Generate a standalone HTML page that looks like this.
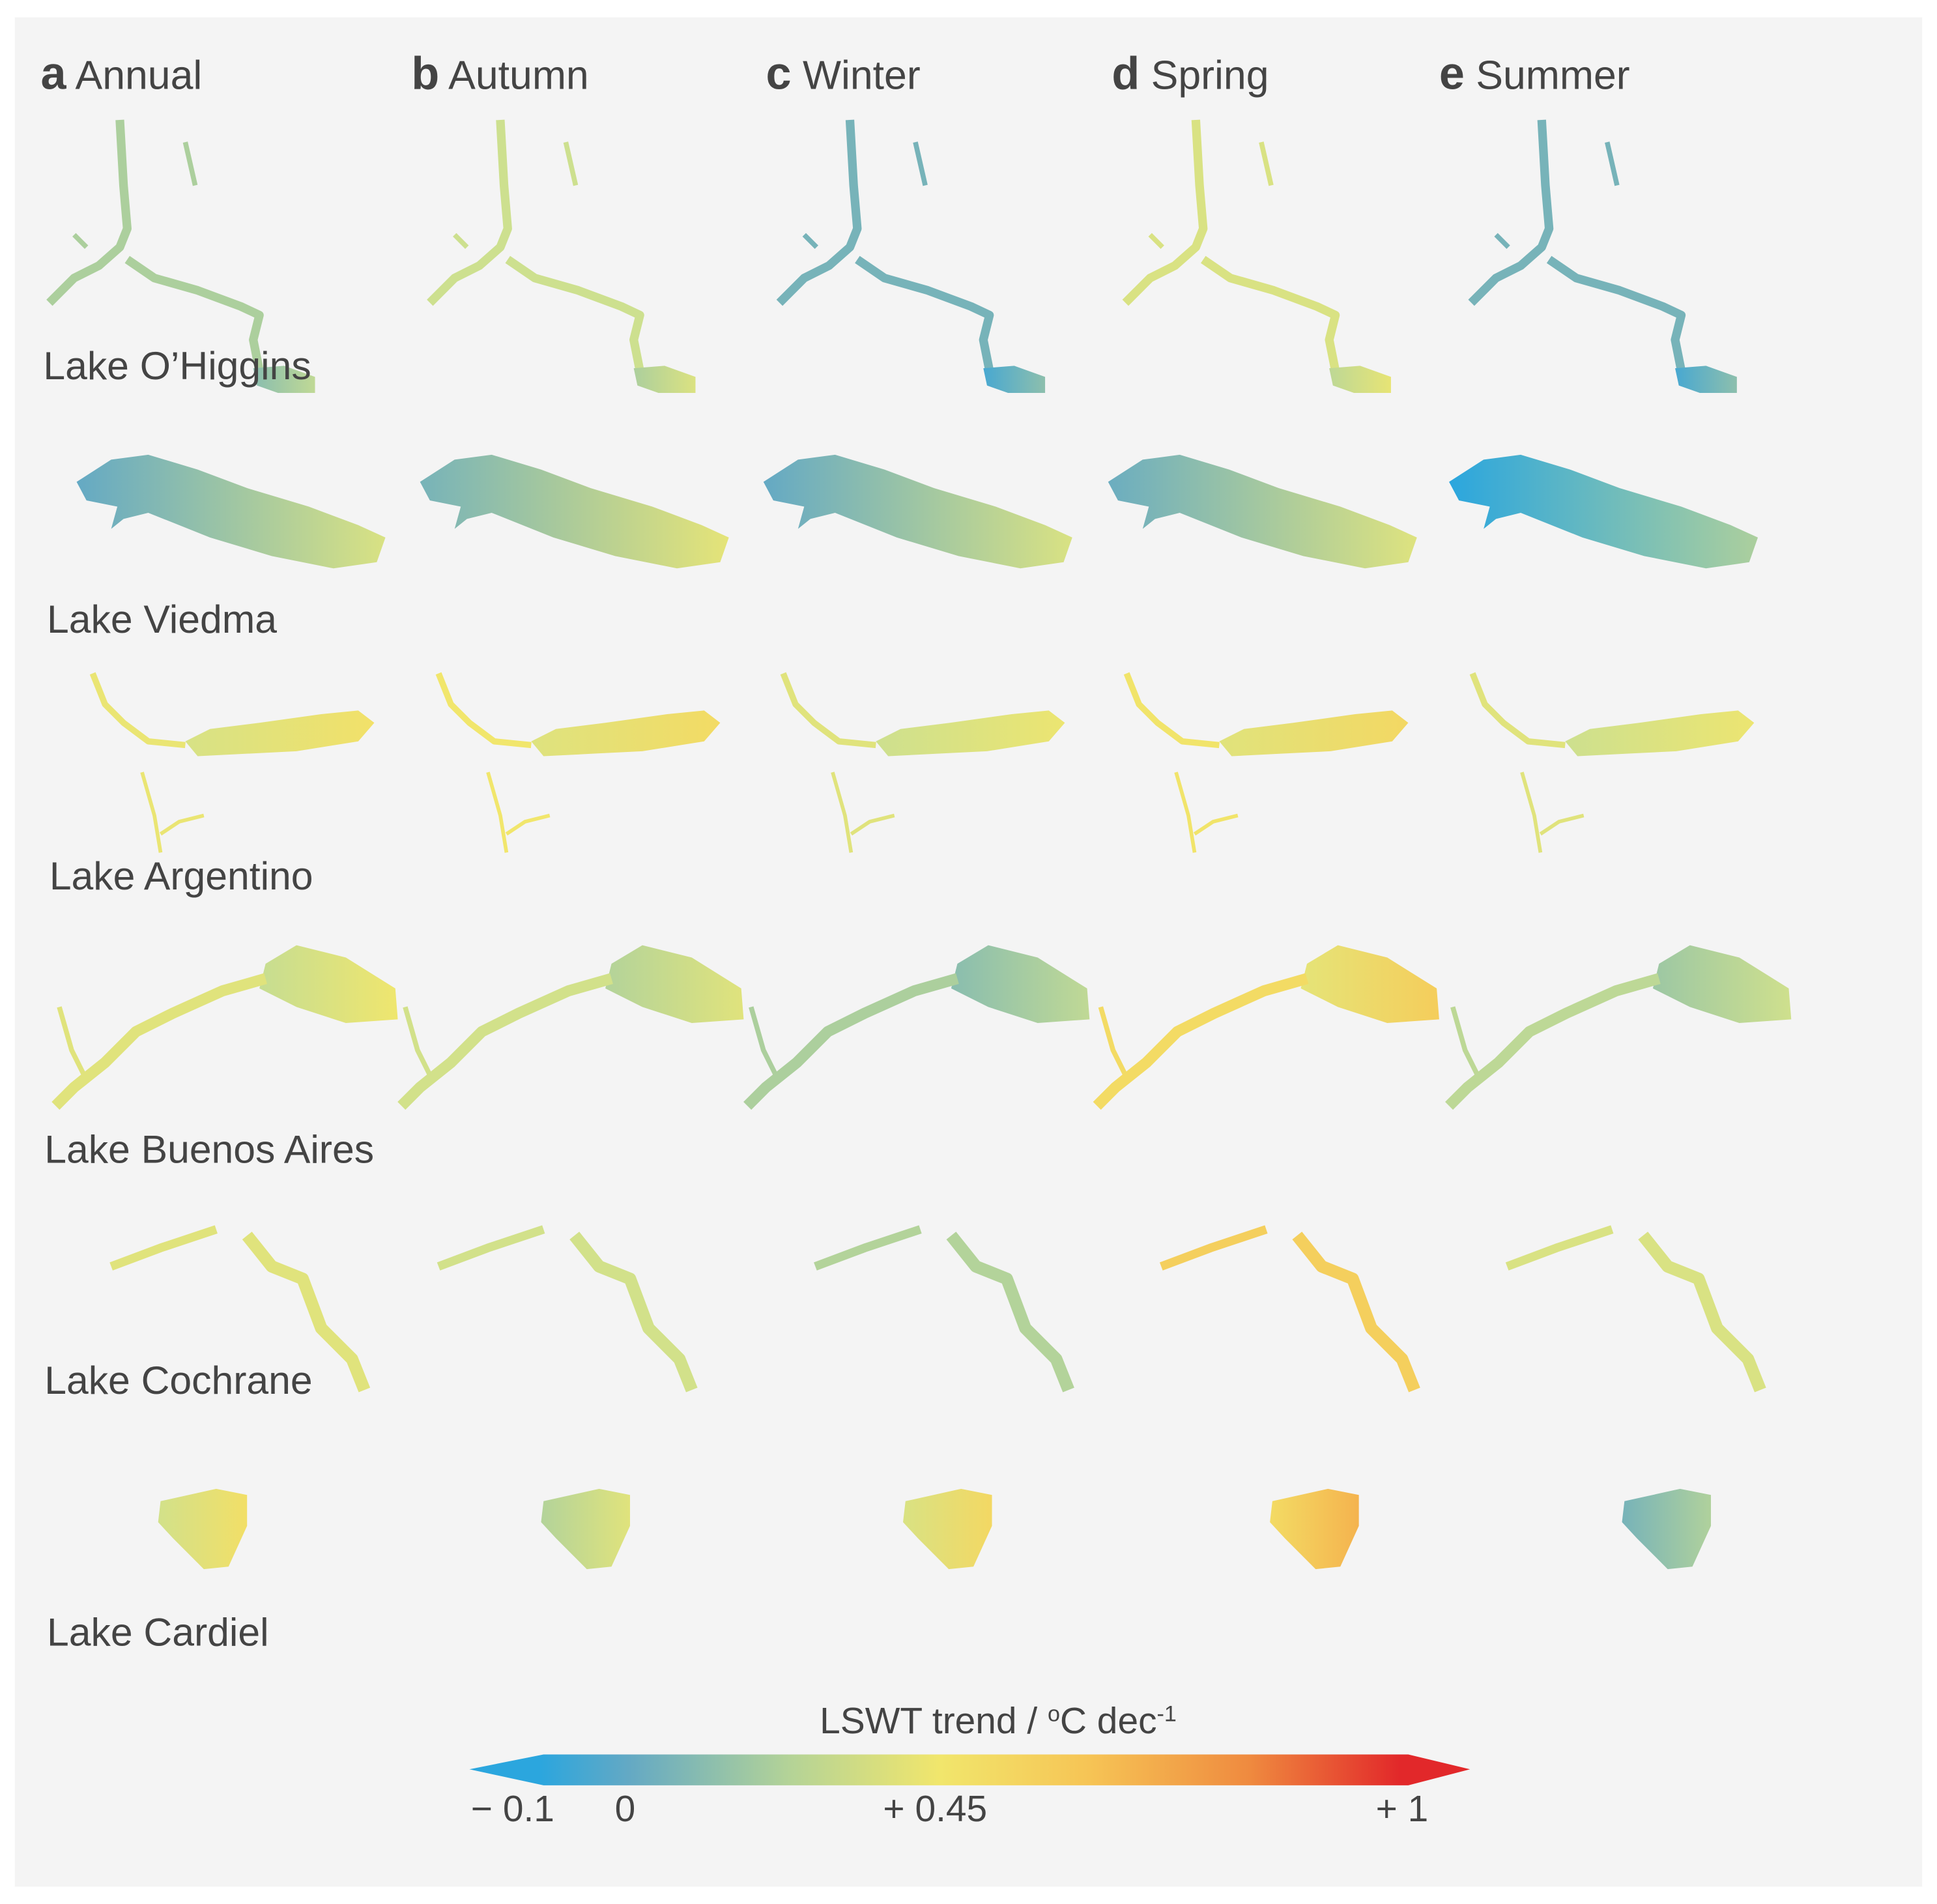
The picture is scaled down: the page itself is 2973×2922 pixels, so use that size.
<!DOCTYPE html>
<html><head><meta charset="utf-8"><style>
html,body{margin:0;padding:0;background:#fff}
svg{display:block}
text{font-family:"Liberation Sans",Arial,sans-serif;fill:#444}
</style></head><body>
<svg width="2973" height="2922" viewBox="0 0 1568 1541" xmlns="http://www.w3.org/2000/svg">
<defs>
<linearGradient id="cbar" x1="380" x2="1190" y1="0" y2="0" gradientUnits="userSpaceOnUse">
<stop offset="0.07" stop-color="#2ba6de"/>
<stop offset="0.16" stop-color="#64a9c4"/>
<stop offset="0.32" stop-color="#b4d397"/>
<stop offset="0.47" stop-color="#f1e66c"/>
<stop offset="0.62" stop-color="#f6c455"/>
<stop offset="0.78" stop-color="#ef8a3f"/>
<stop offset="0.93" stop-color="#e2282a"/>
</linearGradient>
</defs>
<rect x="12" y="14" width="1544" height="1513" fill="#f4f4f4"/>
<g id="maps"></g>
<g>
<text x="808" y="1403" font-size="30" text-anchor="middle">LSWT trend / <tspan font-size="18" dy="-10">o</tspan><tspan dy="10">C dec</tspan><tspan font-size="18" dy="-10">-1</tspan></text>
<polygon points="380,1432 440,1420 1140,1420 1190,1432 1140,1445 440,1445" fill="url(#cbar)"/>
<text x="415" y="1474" font-size="30" text-anchor="middle">− 0.1</text>
<text x="506" y="1474" font-size="30" text-anchor="middle">0</text>
<text x="757" y="1474" font-size="30" text-anchor="middle">+ 0.45</text>
<text x="1135" y="1474" font-size="30" text-anchor="middle">+ 1</text>
</g>
</svg>
<script>
const seasons = ["Annual","Autumn","Winter","Spring","Summer"];
const letters = ["a","b","c","d","e"];
const lakes = ["Lake O\u2019Higgins","Lake Viedma","Lake Argentino","Lake Buenos Aires","Lake Cochrane","Lake Cardiel"];
const trendOHiggins = [0.2,0.3,0.05,0.35,0.05];
const trendViedma = [0.2,0.25,0.2,0.22,0.05];
const trendArgentino = [0.42,0.45,0.38,0.46,0.38];
const trendBuenosAires = [0.38,0.32,0.2,0.5,0.25];
const trendCochrane = [0.38,0.32,0.22,0.55,0.35];
const trendCardiel = [0.42,0.32,0.45,0.6,0.15];

const trends=[trendOHiggins,trendViedma,trendArgentino,trendBuenosAires,trendCochrane,trendCardiel];
const colOffs=[[0,308,591,871,1151],[0,278,556,835,1111],[0,280,559,837,1117],[0,280,560,843,1128],[0,265,570,850,1130],[0,310,603,900,1185]];
const spreads=[[0.1,0.06],[0.2,0.15],[0.08,0.05],[0.1,0.06],[0.1,0.06],[0.1,0.06]];
const headerX=[33,333,620,900,1165];
const labelPos=[[35,297],[38,502],[40,710],[36,931],[36,1118],[38,1322]];
const stops=[[-0.1,[43,166,222]],[0,[100,169,196]],[0.15,[156,199,164]],[0.3,[205,224,143]],[0.45,[241,230,108]],[0.6,[246,196,85]],[0.8,[239,138,63]],[1,[226,40,42]]];
function color(v){v=Math.max(-0.1,Math.min(1,v));for(let i=0;i<stops.length-1;i++){const a=stops[i],b=stops[i+1];if(v<=b[0]){const t=(v-a[0])/(b[0]-a[0]);const c=a[1].map((x,k)=>Math.round(x+(b[1][k]-x)*t));return`rgb(${c})`;}}return"rgb(226,40,42)";}
const shapes=[
 [["l","97,97 100,150 103,185 97,200 80,215 60,225 40,245",7],["l","103,210 125,225 160,235 195,248 210,255 205,275 210,300",7],["p","205,298 230,296 255,305 255,318 225,318 208,312"],["l","150,115 158,150",4],["l","60,190 70,200",4]],
 [["p","62,390 90,372 120,368 160,380 200,395 250,410 290,425 312,435 305,455 270,460 220,450 170,435 120,415 100,420 90,428 95,410 70,405"]],
 [["p","150,600 170,590 210,585 260,578 290,575 303,585 290,600 240,608 200,610 160,612"],["l","75,545 85,570 100,585 120,600 150,603",5],["l","115,625 125,660 130,690",3],["l","130,675 145,665 165,660",3]],
 [["p","215,780 240,765 280,775 320,800 322,825 280,828 240,815 210,800"],["l","215,792 180,802 140,820 110,835 85,860 60,880 45,895",9],["l","48,815 58,850 68,870",4]],
 [["l","90,1025 130,1010 175,995",7],["l","200,1000 220,1025 245,1035 260,1075 285,1100 295,1125",10]],
 [["p","130,1215 175,1205 200,1210 200,1235 185,1268 165,1270 140,1245 128,1232"]]
];
const svg=document.querySelector('svg'),g=document.getElementById('maps'),NS="http://www.w3.org/2000/svg";
const defs=svg.querySelector('defs');
seasons.forEach((s,j)=>{
 const t=document.createElementNS(NS,'text');
 
 
 t.setAttribute('x',headerX[j]);t.setAttribute('y',72);t.setAttribute('font-size','33');
 t.innerHTML=`<tspan font-weight="bold" font-size="37">${letters[j]}</tspan> ${s}`;
 g.appendChild(t);
});
lakes.forEach((lk,i)=>{
 seasons.forEach((s,j)=>{
  const v=trends[i][j];
  const gid='gr'+i+'_'+j;
  const lg=document.createElementNS(NS,'linearGradient');lg.setAttribute('id',gid);
  lg.innerHTML=`<stop offset="0" stop-color="${color(v-spreads[i][0])}"/><stop offset="1" stop-color="${color(v+spreads[i][1])}"/>`;
  defs.appendChild(lg);
  const grp=document.createElementNS(NS,'g');
  
  
  grp.setAttribute('transform',`translate(${colOffs[i][j]},0)`);
  shapes[i].forEach(sh=>{
   const el=document.createElementNS(NS,sh[0]=='p'?'polygon':'polyline');
   el.setAttribute('points',sh[1]);
   if(sh[0]=='p'){el.setAttribute('fill',`url(#${gid})`);}
   else{el.setAttribute('fill','none');el.setAttribute('stroke',color(v));el.setAttribute('stroke-width',sh[2]);el.setAttribute('stroke-linejoin','round');}
   grp.appendChild(el);
  });
  g.appendChild(grp);
 });
 const t=document.createElementNS(NS,'text');
 
 
 t.setAttribute('x',labelPos[i][0]);t.setAttribute('y',labelPos[i][1]+10);t.setAttribute('font-size','32');
 t.textContent=lk;g.appendChild(t);
});
</script>
</body></html>
